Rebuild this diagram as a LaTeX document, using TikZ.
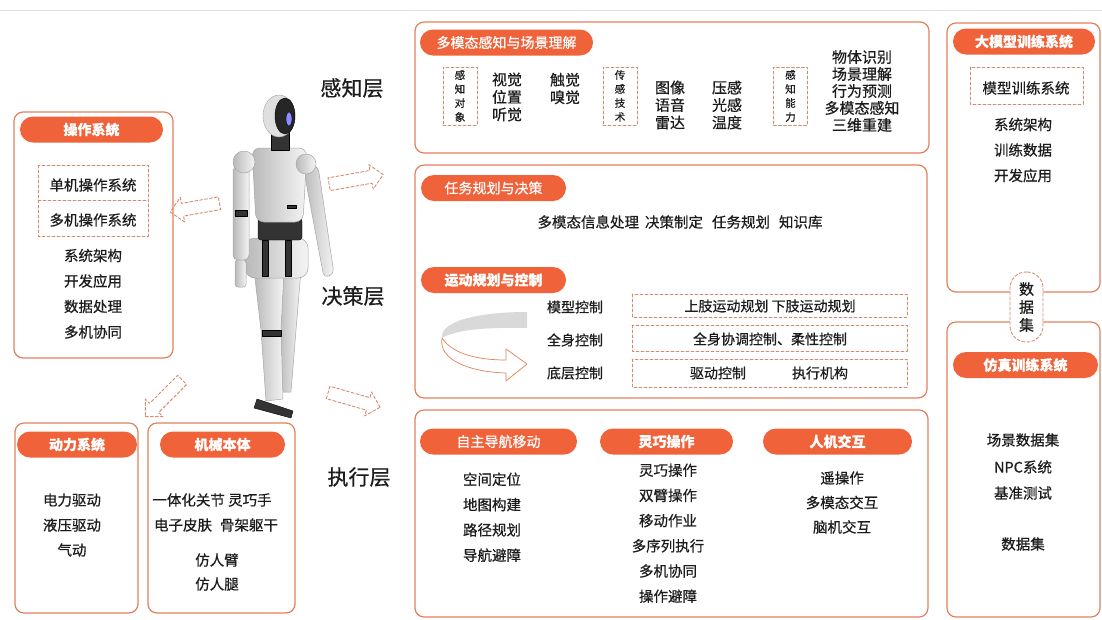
\documentclass[tikz,border=0pt]{standalone}
\usepackage{fontspec}
\setmainfont{Noto Sans CJK SC}[FakeBold=0.6]
\usetikzlibrary{shapes.arrows, calc}
\definecolor{panelline}{RGB}{226,128,92}
\definecolor{pillfill}{RGB}{240,98,58}
\definecolor{dashline}{RGB}{212,140,112}
\definecolor{inktext}{RGB}{28,28,28}

\begin{document}
\begin{tikzpicture}[x=1pt, y=-1pt, line cap=round, line join=round,
    panel/.style={draw=panelline, line width=1.2pt, rounded corners=9pt},
    pill/.style={rectangle, fill=pillfill, rounded corners=13pt, minimum height=26pt,
        inner sep=0pt, text=white, font=\fontsize{14}{14}\selectfont\bfseries},
    item/.style={text=inktext, inner sep=0pt, align=center, font=\fontsize{14.5}{17.5}\selectfont},
    bigitem/.style={item, font=\fontsize{15}{17.5}\selectfont},
    layer/.style={text=inktext, inner sep=0pt, font=\fontsize{21}{21}\selectfont},
    dbox/.style={draw=dashline, line width=0.9pt, dash pattern=on 3pt off 2pt},
    vbox/.style={dbox, rectangle, minimum width=34pt, minimum height=58pt, inner sep=1pt,
        align=center, text=inktext, font=\fontsize{10.5}{14}\selectfont},
    hollowarrow/.style={single arrow, dbox, minimum height=#1, minimum width=24pt,
        inner xsep=0pt, inner ysep=6pt, single arrow head extend=6pt},
    metal/.style={draw=gray!70, line width=0.5pt, shading=axis, left color=gray!55, right color=gray!8},
    joint/.style={fill=black!80}]

    \useasboundingbox (0,0) rectangle (1102,619);
    \draw[gray!25, line width=0.8pt] (0,10) -- (1102,10);

    % Robot
    \draw[metal] (278,270) -- (301,270) -- (296,330) -- (291,392) -- (281,392) -- (279,330) -- cycle;
    \draw[metal] (254,270) -- (284,270) -- (281,330) -- (283,399) -- (266,401) -- (261,330) -- cycle;
    \draw[joint] (262,330) rectangle (281,336);
    \draw[joint] (257,399) -- (293,411) -- (291,418) -- (254,408) -- cycle;
    \draw[metal, rounded corners=10pt] (245,238) rectangle (308,278);
    \draw[joint] (262,240) rectangle (268,276);
    \draw[joint] (285,240) rectangle (291,276);
    \draw[joint, rounded corners=3pt] (258,218) rectangle (302,240);
    \draw[metal, rounded corners=5pt] (303,166) -- (318,166) -- (334,274) -- (324,278) -- cycle;
    \draw[metal, rounded corners=8pt] (252,148) -- (307,148) -- (303,222) -- (256,222) -- cycle;
    \draw[joint] (287,205) rectangle (296,208);
    \draw[metal] (306,164) circle (10);
    \draw[metal, rounded corners=5pt] (233,166) rectangle (249,260);
    \draw[joint] (235,210) rectangle (247,216);
    \draw[metal, rounded corners=3pt] (235,260) rectangle (246,287);
    \draw[metal] (244,162) circle (11);
    \draw[joint] (271,132) rectangle (289,150);
    \draw[fill=gray!25, draw=gray!70] (279,116) ellipse (16 and 21);
    \draw[fill=black!85] (285,116) ellipse (10 and 18);
    \draw[fill=blue!45] (289,119) ellipse (3 and 7);

    % Hollow arrows
    \node[hollowarrow=50pt, rotate=190] (arrOS) at (198,207) {};
    \node[hollowarrow=55pt, rotate=10] (arrSense) at (353,180) {};
    \node[hollowarrow=52pt, rotate=225] (arrPower) at (166,396) {};
    \node[hollowarrow=54pt, rotate=-16] (arrAct) at (351,399) {};

    % Layer labels
    \node[layer] (lSense) at (352,88) {感知层};
    \node[layer] (lDecide) at (353,296) {决策层};
    \node[layer] (lAct) at (359,477) {执行层};

    % Operating system
    \draw[panel] (14,112) rectangle (173,358);
    \node[pill, minimum width=143pt] (osTag) at (91.5,129.5) {操作系统};
    \draw[dbox] (38,165) rectangle (148,236);
    \draw[dbox] (38,200) -- (148,200);
    \node[item] (osSingle) at (93,185) {单机操作系统};
    \node[item] (osMulti) at (93,220) {多机操作系统};
    \foreach \t [count=\i] in {系统架构, 开发应用, 数据处理, 多机协同}
        \node[item] (os\i) at (93,230+25.5*\i) {\t};

    % Power and body
    \draw[panel] (15,423) rectangle (138,613);
    \node[pill, minimum width=120pt] (powerTag) at (77,444.5) {动力系统};
    \foreach \t [count=\i] in {电力驱动, 液压驱动, 气动}
        \node[item] (power\i) at (72,475+25*\i) {\t};
    \draw[panel] (148,423) rectangle (295,613);
    \node[pill, minimum width=125pt] (bodyTag) at (222.5,444.5) {机械本体};
    \node[item] (body1) at (212,500) {一体化关节 灵巧手};
    \node[item] (body2) at (216,525) {电子皮肤\hspace{8pt}骨架躯干};
    \node[item] (body3) at (217,560) {仿人臂};
    \node[item] (body4) at (217,584) {仿人腿};

    % Perception
    \draw[panel] (415,22) rectangle (929,153);
    \node[pill, minimum width=173pt, font=\fontsize{14}{14}\selectfont] (senseTag) at (506.5,42.5) {多模态感知与场景理解};
    \node[vbox] (senseObj) at (460,96) {感\\知\\对\\象};
    \node[vbox] (senseTech) at (620,96) {传\\感\\技\\术};
    \node[vbox] (senseAbil) at (790.5,96) {感\\知\\能\\力};
    \node[bigitem] (obj1) at (507,97) {视觉\\位置\\听觉};
    \node[bigitem] (obj2) at (565,88.5) {触觉\\嗅觉};
    \node[bigitem] (tech1) at (670,105) {图像\\语音\\雷达};
    \node[bigitem] (tech2) at (727,105) {压感\\光感\\温度};
    \node[bigitem, font=\fontsize{15}{17}\selectfont] (abil1) at (862,91) {物体识别\\场景理解\\行为预测\\多模态感知\\三维重建};

    % Decision
    \draw[panel] (415,165) rectangle (927,398);
    \node[pill, minimum width=145pt, font=\fontsize{14}{14}\selectfont] (planTag) at (493.5,188) {任务规划与决策};
    \node[item] (planItems) at (680,222) {多模态信息处理\hspace{6pt}决策制定\hspace{9pt}任务规划\hspace{9pt}知识库};
    \node[pill, minimum width=145pt] (motionTag) at (493.5,280) {运动规划与控制};
    \fill[gray!30] (527,312) .. controls (475,312) and (440,322) .. (442,338)
        .. controls (455,330) and (485,327) .. (527,328) -- cycle;
    \draw[panelline, line width=0.7pt, fill=white] (442,338) .. controls (438,360) and (470,372) .. (506,373)
        -- (506,381) -- (527,364) -- (506,349) -- (506,360) .. controls (475,360) and (452,353) .. (442,338);
    \foreach \t/\y [count=\i] in {模型控制/307, 全身控制/340, 底层控制/373} {
        \node[item, font=\fontsize{14}{14}\selectfont] (ctrl\i) at (575,\y) {\t};
    }
    \draw[dbox] (632,294) rectangle (907,317);
    \draw[dbox] (632,325) rectangle (907,351);
    \draw[dbox] (632,359) rectangle (907,387);
    \node[item, font=\fontsize{14}{14}\selectfont] (limb) at (770,306) {上肢运动规划 下肢运动规划};
    \node[item, font=\fontsize{14}{14}\selectfont] (whole) at (770,339) {全身协调控制、柔性控制};
    \node[item, font=\fontsize{14}{14}\selectfont] (drive) at (718,373) {驱动控制};
    \node[item, font=\fontsize{14}{14}\selectfont] (exec) at (820,373) {执行机构};

    % Execution
    \draw[panel] (415,410) rectangle (928,617);
    \node[pill, minimum width=157pt, font=\fontsize{14}{14}\selectfont] (navTag) at (498.5,441.5) {自主导航移动};
    \node[pill, minimum width=133pt] (dexTag) at (666.5,441.5) {灵巧操作};
    \node[pill, minimum width=149pt] (hriTag) at (837.5,441.5) {人机交互};
    \foreach \t [count=\i] in {空间定位, 地图构建, 路径规划, 导航避障}
        \node[item] (nav\i) at (492,454+25.3*\i) {\t};
    \foreach \t [count=\i] in {灵巧操作, 双臂操作, 移动作业, 多序列执行, 多机协同, 操作避障}
        \node[item] (dex\i) at (668,445+25.2*\i) {\t};
    \foreach \t [count=\i] in {遥操作, 多模态交互, 脑机交互}
        \node[item] (hri\i) at (842,453.5+24.5*\i) {\t};

    % Training systems
    \draw[panel] (947,23) rectangle (1100,292);
    \node[pill, minimum width=142pt] (llmTag) at (1024,41.5) {大模型训练系统};
    \draw[dbox] (970,67) rectangle (1083,104);
    \node[item] (llmBox) at (1026,88) {模型训练系统};
    \foreach \t [count=\i] in {系统架构, 训练数据, 开发应用}
        \node[item] (llm\i) at (1023,99+25.5*\i) {\t};
    \draw[panel] (947,322) rectangle (1100,617);
    \node[dbox, rectangle, fill=white, rounded corners=16pt, minimum width=33pt, minimum height=70pt,
        inner sep=0pt, align=center, text=inktext, font=\fontsize{15}{18}\selectfont] (dataSet) at (1026.5,307) {数\\据\\集};
    \node[pill, minimum width=145pt] (simTag) at (1025.5,365) {仿真训练系统};
    \foreach \t/\y [count=\i] in {场景数据集/440, NPC系统/467, 基准测试/493, 数据集/544}
        \node[item] (sim\i) at (1023,\y) {\t};
\end{tikzpicture}
\end{document}
